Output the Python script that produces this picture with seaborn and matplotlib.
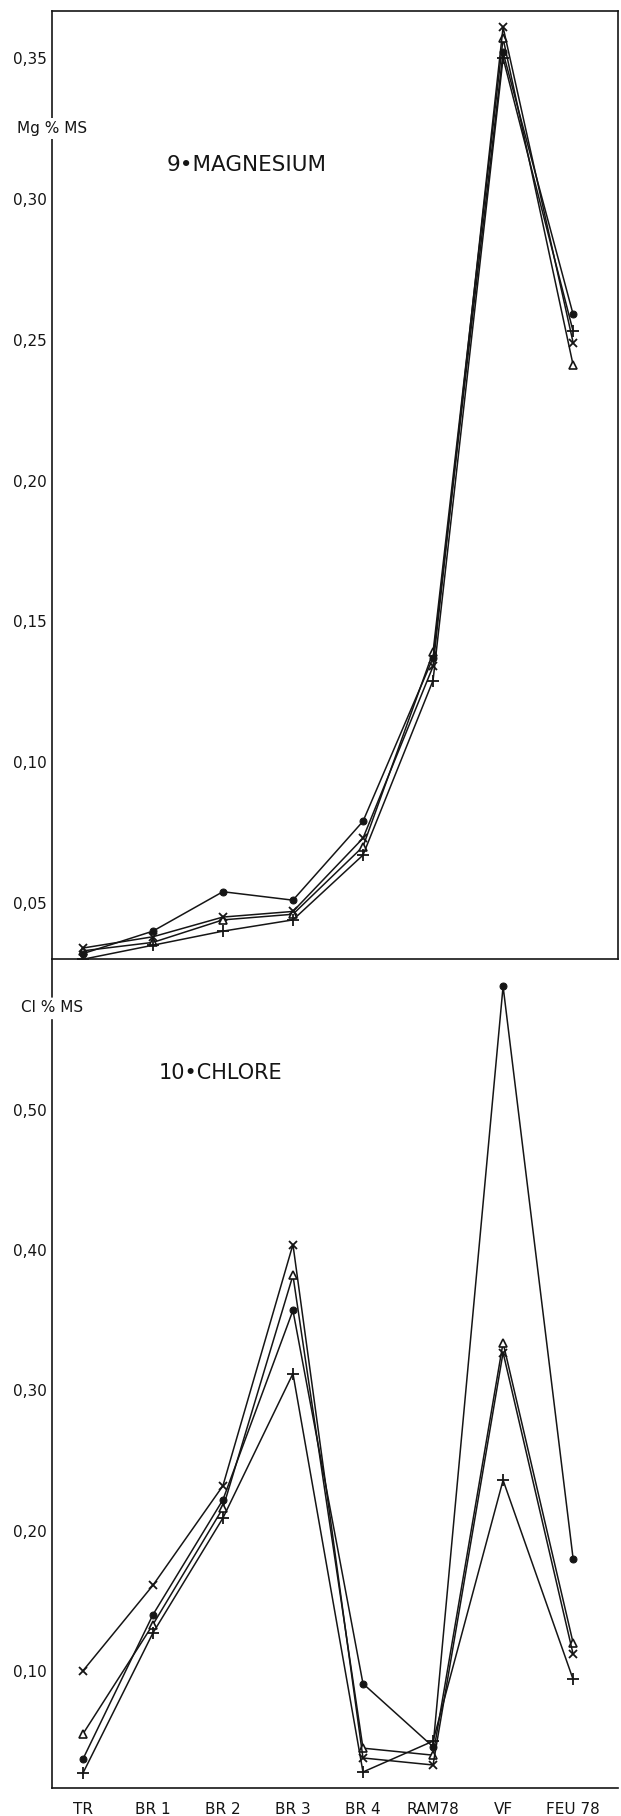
import matplotlib
matplotlib.use("Agg")
import matplotlib.pyplot as plt
import seaborn as sns
import pandas as pd
from matplotlib.lines import Line2D

sns.set_theme(style="white")
plt.rcParams["font.family"] = ["DejaVu Sans"]

# stations (x axis)
stations = ["TR", "BR 1", "BR 2", "BR 3", "BR 4", "RAM78", "VF", "FEU 78"]

# 9 - magnesium, Mg % MS
mg_point = [0.032, 0.040, 0.054, 0.051, 0.079, 0.137, 0.352, 0.259]
mg_plus = [0.030, 0.035, 0.040, 0.044, 0.067, 0.129, 0.350, 0.253]
mg_cross = [0.034, 0.038, 0.045, 0.047, 0.073, 0.134, 0.361, 0.249]
mg_tri = [0.033, 0.036, 0.044, 0.046, 0.070, 0.139, 0.357, 0.241]

# 10 - chlore, Cl % MS
cl_point = [0.037, 0.140, 0.222, 0.357, 0.091, 0.046, 0.588, 0.180]
cl_plus = [0.027, 0.127, 0.209, 0.312, 0.028, 0.050, 0.236, 0.094]
cl_cross = [0.100, 0.161, 0.232, 0.404, 0.038, 0.033, 0.327, 0.112]
cl_tri = [0.055, 0.133, 0.216, 0.382, 0.045, 0.040, 0.334, 0.120]

mg_ticks = [0.05, 0.10, 0.15, 0.20, 0.25, 0.30, 0.35]
cl_ticks = [0.10, 0.20, 0.30, 0.40, 0.50]

INK = "#151515"
styles = {
    "point": dict(marker="o", ms=5, mfc=INK, mec=INK),
    "plus": dict(marker="+", ms=8, mew=1.3, mec=INK),
    "cross": dict(marker="x", ms=5.5, mew=1.3, mec=INK),
    "tri": dict(marker="^", ms=5.5, mew=1.2, mfc="white", mec=INK),
}


def draw(ax, series):
    for name, vals in series.items():
        d = pd.DataFrame({"pos": range(len(stations)), "val": vals})
        sns.lineplot(data=d, x="pos", y="val", ax=ax, color=INK, lw=1.1,
                     **styles[name])


def fmt(v):
    return f"{v:.2f}".replace(".", ",")


fig = plt.figure(figsize=(6.21, 18.16), dpi=100)
ax1 = fig.add_axes([0.0837, 0.4719, 0.9114, 0.5220])
ax2 = fig.add_axes([0.0837, 0.01542, 0.9114, 0.4507])

draw(ax1, {"tri": mg_tri, "cross": mg_cross, "plus": mg_plus, "point": mg_point})
draw(ax2, {"tri": cl_tri, "cross": cl_cross, "plus": cl_plus, "point": cl_point})

for ax in (ax1, ax2):
    ax.set_xlim(-0.44, 7.64)
    ax.set_xticks(range(len(stations)))
    ax.set_xlabel("")
    ax.set_ylabel("")
    ax.tick_params(axis="x", direction="out", length=7, width=1.1, colors=INK,
                   labelsize=11, pad=3)
    ax.tick_params(axis="y", direction="in", length=6, width=1.1, colors=INK,
                   labelsize=11, pad=4)
    for s in ax.spines.values():
        s.set_color(INK)
        s.set_linewidth(1.2)

# top panel: Mg
ax1.set_ylim(0.0301, 0.3667)
ax1.set_yticks(mg_ticks)
ax1.set_yticklabels([fmt(v) for v in mg_ticks])
ax1.set_xticklabels([])
ax1.text(0.0, 0.325, "Mg % MS", transform=ax1.get_yaxis_transform(),
         ha="center", va="center", fontsize=11, color=INK, clip_on=False,
         bbox=dict(fc="white", ec="none", pad=2), zorder=5)
ax1.text(1.2, 0.312, "9\u2022MAGNESIUM", ha="left", va="center",
         fontsize=15.5, color=INK)

# bottom panel: Cl
ax2.set_ylim(0.0166, 0.60)
ax2.set_yticks(cl_ticks)
ax2.set_yticklabels([fmt(v) for v in cl_ticks])
ax2.set_xticklabels(stations)
for s in ("top", "right"):
    ax2.spines[s].set_visible(False)
ax2.spines["left"].set_bounds(0.0166, 0.564)
ax2.text(0.0, 0.573, "Cl % MS", transform=ax2.get_yaxis_transform(),
         ha="center", va="center", fontsize=11, color=INK, clip_on=False)
ax2.text(1.09, 0.526, "10\u2022CHLORE", ha="left", va="center",
         fontsize=15, color=INK)

# left spine stub under the upper panel
fig.add_artist(Line2D([0.0837, 0.0837], [0.4719, 1 - 997 / 1816],
                      transform=fig.transFigure, color=INK, lw=1.2))

fig.savefig("out.png", dpi=100)
